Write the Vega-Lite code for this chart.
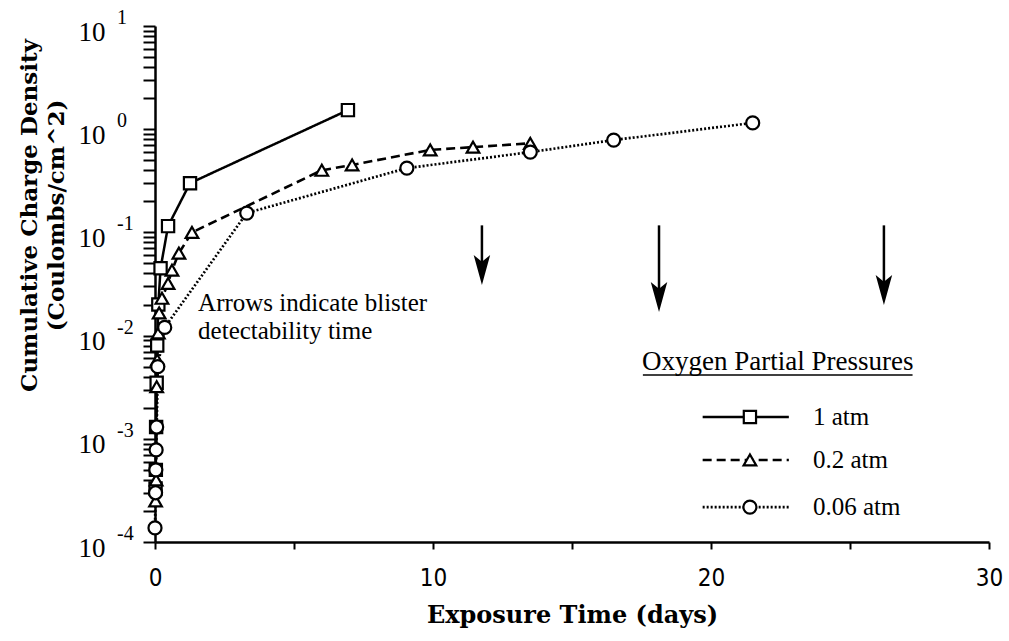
{
  "$schema": "https://vega.github.io/schema/vega-lite/v6.json",
  "width": 834,
  "height": 516,
  "autosize": {"type": "none"},
  "padding": {"left": 155, "top": 26, "right": 20, "bottom": 99},
  "background": "white",
  "config": {"view": {"stroke": null}, "font": "Liberation Serif"},
  "datasets": {
    "series": [
      {"s": "1 atm", "x": 0.02, "y": 0.00033},
      {"s": "1 atm", "x": 0.03, "y": 0.0005},
      {"s": "1 atm", "x": 0.04, "y": 0.0013},
      {"s": "1 atm", "x": 0.06, "y": 0.0035},
      {"s": "1 atm", "x": 0.08, "y": 0.008},
      {"s": "1 atm", "x": 0.12, "y": 0.02},
      {"s": "1 atm", "x": 0.2, "y": 0.045},
      {"s": "1 atm", "x": 0.47, "y": 0.115},
      {"s": "1 atm", "x": 1.26, "y": 0.3},
      {"s": "1 atm", "x": 6.94, "y": 1.53},
      {"s": "0.2 atm", "x": 0.02, "y": 0.00025},
      {"s": "0.2 atm", "x": 0.04, "y": 0.0004},
      {"s": "0.2 atm", "x": 0.06, "y": 0.0032},
      {"s": "0.2 atm", "x": 0.08, "y": 0.0058},
      {"s": "0.2 atm", "x": 0.12, "y": 0.0106},
      {"s": "0.2 atm", "x": 0.15, "y": 0.0166},
      {"s": "0.2 atm", "x": 0.25, "y": 0.023},
      {"s": "0.2 atm", "x": 0.47, "y": 0.032},
      {"s": "0.2 atm", "x": 0.61, "y": 0.043},
      {"s": "0.2 atm", "x": 0.86, "y": 0.063},
      {"s": "0.2 atm", "x": 1.33, "y": 0.1},
      {"s": "0.2 atm", "x": 6.0, "y": 0.4},
      {"s": "0.2 atm", "x": 7.09, "y": 0.45},
      {"s": "0.2 atm", "x": 9.9, "y": 0.63},
      {"s": "0.2 atm", "x": 11.44, "y": 0.67},
      {"s": "0.2 atm", "x": 13.5, "y": 0.73},
      {"s": "0.06 atm", "x": 0.0, "y": 0.000137},
      {"s": "0.06 atm", "x": 0.02, "y": 0.0003},
      {"s": "0.06 atm", "x": 0.03, "y": 0.0005},
      {"s": "0.06 atm", "x": 0.04, "y": 0.00078},
      {"s": "0.06 atm", "x": 0.06, "y": 0.0013},
      {"s": "0.06 atm", "x": 0.1, "y": 0.005},
      {"s": "0.06 atm", "x": 0.35, "y": 0.012},
      {"s": "0.06 atm", "x": 3.3, "y": 0.154},
      {"s": "0.06 atm", "x": 9.06, "y": 0.42},
      {"s": "0.06 atm", "x": 13.5, "y": 0.6},
      {"s": "0.06 atm", "x": 16.5, "y": 0.785},
      {"s": "0.06 atm", "x": 21.5, "y": 1.15}
    ],
    "legendLines": [
      {"s": "1 atm", "x": 19.7, "y": 0.001626},
      {"s": "1 atm", "x": 22.8, "y": 0.001626},
      {"s": "0.2 atm", "x": 19.7, "y": 0.000624},
      {"s": "0.2 atm", "x": 22.8, "y": 0.000624},
      {"s": "0.06 atm", "x": 19.7, "y": 0.000218},
      {"s": "0.06 atm", "x": 22.8, "y": 0.000218}
    ],
    "legendMarks": [
      {"s": "1 atm", "x": 21.4, "y": 0.001626},
      {"s": "0.2 atm", "x": 21.4, "y": 0.000624},
      {"s": "0.06 atm", "x": 21.4, "y": 0.000218}
    ],
    "legendText": [
      {"t": "1 atm", "x": 23.67, "y": 0.001626},
      {"t": "0.2 atm", "x": 23.67, "y": 0.000624},
      {"t": "0.06 atm", "x": 23.67, "y": 0.000218}
    ],
    "legendTitle": [{"t": "Oxygen Partial Pressures", "x": 22.4, "y": 0.0056}],
    "underline": [{"x": 17.55, "x2": 27.25, "y": 0.00415}],
    "note": [
      {"t": "Arrows indicate blister", "x": 1.55, "y": 0.0205},
      {"t": "detectability time", "x": 1.55, "y": 0.0111}
    ],
    "shafts": [
      {"x": 11.76, "y": 0.117, "y2": 0.0433},
      {"x": 18.13, "y": 0.117, "y2": 0.0237},
      {"x": 26.22, "y": 0.117, "y2": 0.0277}
    ],
    "heads": [
      {"x": 11.76, "y": 0.0433},
      {"x": 18.13, "y": 0.0237},
      {"x": 26.22, "y": 0.0277}
    ],
    "exponents": [
      {"e": "1", "x": 0, "y": 10},
      {"e": "0", "x": 0, "y": 1},
      {"e": "-1", "x": 0, "y": 0.1},
      {"e": "-2", "x": 0, "y": 0.01},
      {"e": "-3", "x": 0, "y": 0.001},
      {"e": "-4", "x": 0, "y": 0.0001}
    ]
  },
  "encoding": {
    "x": {
      "field": "x",
      "type": "quantitative",
      "scale": {"domain": [0, 30], "nice": false, "zero": false},
      "axis": {
        "title": "Exposure Time (days)",
        "values": [0, 5, 10, 15, 20, 25, 30],
        "labelExpr": "datum.value % 10 === 0 ? datum.label : ''",
        "grid": false,
        "domainColor": "black",
        "domainWidth": 2.5,
        "tickColor": "black",
        "tickWidth": 2,
        "tickSize": 7,
        "labelPadding": 17,
        "labelFont": "Liberation Sans Narrow, DejaVu Sans Condensed, Liberation Sans",
        "labelFontSize": 24,
        "labelColor": "black",
        "labelFlush": false,
        "labelOverlap": false,
        "titleFont": "DejaVu Serif",
        "titleFontWeight": "bold",
        "titleFontSize": 24,
        "titleColor": "black",
        "titleY": 73,
        "titleBaseline": "middle"
      }
    },
    "y": {
      "field": "y",
      "type": "quantitative",
      "scale": {"type": "log", "domain": [0.0001, 10], "nice": false},
      "axis": {
        "title": ["Cumulative Charge Density", "(Coulombs/cm^2)"],
        "values": [0.0001, 0.0002, 0.0003, 0.0004, 0.0005, 0.0006, 0.0007, 0.0008, 0.0009, 0.001, 0.002, 0.003, 0.004, 0.005, 0.006, 0.007, 0.008, 0.009, 0.01, 0.02, 0.03, 0.04, 0.05, 0.06, 0.07, 0.08, 0.09, 0.1, 0.2, 0.3, 0.4, 0.5, 0.6, 0.7, 0.8, 0.9, 1, 2, 3, 4, 5, 6, 7, 8, 9, 10],
        "labelExpr": "abs(log(datum.value)/LN10 - round(log(datum.value)/LN10)) < 0.001 ? '10' : ''",
        "encoding": {
          "ticks": {
            "update": {
              "x2": {"signal": "abs(log(datum.value)/LN10 - round(log(datum.value)/LN10)) < 0.001 ? -12 : 7"}
            }
          }
        },
        "grid": false,
        "domainColor": "black",
        "domainWidth": 2.5,
        "tickColor": "black",
        "tickWidth": 2,
        "tickSize": 12,
        "labelPadding": 38,
        "labelOffset": 6,
        "labelFont": "Liberation Serif",
        "labelFontSize": 27,
        "labelColor": "black",
        "labelFlush": false,
        "labelOverlap": false,
        "labelBaseline": "middle",
        "titleFont": "DejaVu Serif",
        "titleFontWeight": "bold",
        "titleFontSize": 23,
        "titleColor": "black",
        "titleX": -126,
        "titleY": 189,
        "titleAngle": -90,
        "titleAlign": "center",
        "titleBaseline": "middle",
        "titleLineHeight": 27
      }
    }
  },
  "layer": [
    {
      "data": {"name": "series"},
      "mark": {"type": "line", "color": "black"},
      "encoding": {
        "strokeDash": {"field": "s", "type": "nominal", "scale": {"domain": ["1 atm", "0.2 atm", "0.06 atm"], "range": [[1, 0], [9, 5], [2, 2]]}, "legend": null},
        "strokeWidth": {"field": "s", "type": "nominal", "scale": {"domain": ["1 atm", "0.2 atm", "0.06 atm"], "range": [2.5, 2.7, 1.8]}, "legend": null}
      }
    },
    {
      "data": {"name": "series"},
      "mark": {"type": "point", "filled": true, "fill": "white", "stroke": "black", "strokeWidth": 2.2, "opacity": 1},
      "encoding": {
        "shape": {"field": "s", "type": "nominal", "scale": {"domain": ["1 atm", "0.2 atm", "0.06 atm"], "range": ["square", "triangle-up", "circle"]}, "legend": null},
        "size": {"field": "s", "type": "nominal", "scale": {"domain": ["1 atm", "0.2 atm", "0.06 atm"], "range": [150, 170, 60]}, "legend": null}
      }
    },
    {
      "data": {"name": "legendLines"},
      "mark": {"type": "line", "color": "black"},
      "encoding": {
        "strokeDash": {"field": "s", "type": "nominal", "legend": null},
        "strokeWidth": {"field": "s", "type": "nominal", "legend": null}
      }
    },
    {
      "data": {"name": "legendMarks"},
      "mark": {"type": "point", "filled": true, "fill": "white", "stroke": "black", "strokeWidth": 2.2, "opacity": 1},
      "encoding": {
        "shape": {"field": "s", "type": "nominal", "legend": null},
        "size": {"field": "s", "type": "nominal", "legend": null}
      }
    },
    {
      "data": {"name": "legendText"},
      "mark": {"type": "text", "align": "left", "baseline": "middle", "font": "Liberation Serif", "fontSize": 25, "color": "black"},
      "encoding": {"text": {"field": "t"}}
    },
    {
      "data": {"name": "legendTitle"},
      "mark": {"type": "text", "align": "center", "baseline": "middle", "font": "Liberation Serif", "fontSize": 27, "color": "black"},
      "encoding": {"text": {"field": "t"}}
    },
    {
      "data": {"name": "underline"},
      "mark": {"type": "rule", "color": "black", "strokeWidth": 1.5},
      "encoding": {"x2": {"field": "x2"}}
    },
    {
      "data": {"name": "note"},
      "mark": {"type": "text", "align": "left", "baseline": "middle", "font": "Liberation Serif", "fontSize": 25, "color": "black"},
      "encoding": {"text": {"field": "t"}}
    },
    {
      "data": {"name": "shafts"},
      "mark": {"type": "rule", "color": "black", "strokeWidth": 2.5},
      "encoding": {"y2": {"field": "y2"}}
    },
    {
      "data": {"name": "heads"},
      "mark": {"type": "point", "filled": true, "color": "black", "opacity": 1, "size": 900, "shape": "M-0.55,-1L0,1L0.55,-1L0,-0.55Z"},
      "encoding": {}
    },
    {
      "data": {"name": "exponents"},
      "mark": {"type": "text", "align": "left", "baseline": "middle", "dx": -38, "dy": -8, "font": "Liberation Serif", "fontSize": 20, "color": "black"},
      "encoding": {"text": {"field": "e"}}
    }
  ]
}
